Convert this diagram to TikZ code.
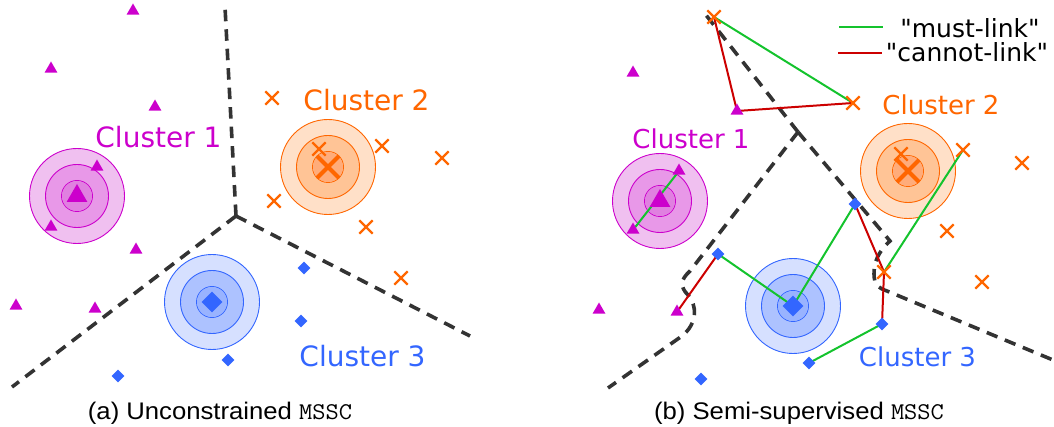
\documentclass[tikz,border=0pt]{standalone}
\usepackage{fontspec}
\setmainfont{Liberation Sans}
\newfontfamily\dejavu{DejaVu Sans}
\usetikzlibrary{shapes.geometric,shapes.misc}
\pgfdeclarelayer{circ}\pgfdeclarelayer{dash}\pgfdeclarelayer{links}
\pgfsetlayers{circ,dash,links,main}
\definecolor{magC}{RGB}{204,0,204}
\definecolor{magA}{RGB}{240,192,240}
\definecolor{magB}{RGB}{232,152,232}
\definecolor{magD}{RGB}{224,128,224}
\definecolor{orC}{RGB}{255,102,0}
\definecolor{orA}{RGB}{255,224,200}
\definecolor{orB}{RGB}{255,196,150}
\definecolor{orD}{RGB}{255,172,122}
\definecolor{blC}{RGB}{51,102,255}
\definecolor{blA}{RGB}{214,224,255}
\definecolor{blB}{RGB}{173,194,255}
\definecolor{blD}{RGB}{153,179,255}
\definecolor{mlink}{RGB}{20,195,45}
\definecolor{clink}{RGB}{204,0,0}
\definecolor{bnd}{RGB}{51,51,51}
\tikzset{
  tri/.style={regular polygon, regular polygon sides=3, fill=magC, inner sep=0pt, minimum size=15pt},
  bigtri/.style={tri, minimum size=24pt},
  crs/.style={cross out, draw=orC, line width=2.3pt, minimum size=11pt, inner sep=0pt},
  bigcrs/.style={crs, line width=4pt, minimum size=18pt},
  dia/.style={diamond, fill=blC, inner sep=0pt, minimum size=13pt},
  bigdia/.style={dia, minimum size=21pt},
  boundary/.style={draw=bnd, line width=3.6pt, dash pattern=on 11.5pt off 8pt},
  mustlink/.style={draw=mlink, line width=2pt},
  cannotlink/.style={draw=clink, line width=2pt},
  clabel/.style={font=\dejavu\fontsize{28}{30}\selectfont, anchor=base, inner sep=0pt},
  clabelr/.style={font=\dejavu\fontsize{26}{28}\selectfont, anchor=base, inner sep=0pt},
  legtext/.style={font=\dejavu\fontsize{25}{27}\selectfont, inner sep=0pt},
  caption/.style={font=\fontsize{24}{26}\selectfont, anchor=base, inner sep=0pt},
}
\newcommand{\rings}[4]{%
  \path[draw=#2, fill=#3, line width=0.9pt] (#1) circle[radius=47.5];
  \path[draw=#2, fill=#4, line width=0.9pt] (#1) circle[radius=31.5];
  \path[draw=#2, line width=0.9pt] (#1) circle[radius=15.5];
}
\begin{document}
\begin{tikzpicture}[x=1pt, y=-1pt]
\useasboundingbox (0,0) rectangle (1054,427);

% ===================== left panel =====================
\node[bigtri] (L1) at (77,196) {};
\node[bigcrs] (L2) at (328,167) {};
\node[bigdia] (L3) at (212,302) {};
\foreach \n/\p in {la1/{133,11}, la2/{51,69}, la3/{155,107}, la4/{97,167}, la5/{51,227}, la6/{136,250}, la7/{16,306}, la8/{95,309}}
  \node[tri] (\n) at (\p) {};
\foreach \n/\p in {lx1/{272,98}, lx2/{319,149}, lx3/{382,146}, lx4/{442,158}, lx5/{274,201}, lx6/{366,227}, lx7/{401,278}}
  \node[crs] (\n) at (\p) {};
\foreach \n/\p in {ld1/{304,268}, ld2/{301,321}, ld3/{228,360}, ld4/{118,376}}
  \node[dia] (\n) at (\p) {};

\coordinate (LJ) at (236,216);
\coordinate (LT) at (225,7);
\coordinate (LL) at (12,387);
\coordinate (LR) at (470,336);

\node[clabel, text=magC] (lc1) at (158.5,148) {Cluster 1};
\node[clabel, text=orC] (lc2) at (366.5,111) {Cluster 2};
\node[clabel, text=blC] (lc3) at (362.5,366) {Cluster 3};

% ===================== right panel =====================
\node[bigtri] (R1) at (660,201) {};
\node[bigcrs] (R2) at (908,171) {};
\node[bigdia] (R3) at (793,306) {};
\foreach \n/\p in {ra1/{633,73}, ra2/{737,111}, ra3/{679,171}, ra4/{633,230}, ra5/{599,310}, ra6/{677,312}}
  \node[tri] (\n) at (\p) {};
\foreach \n/\p in {rx1/{714,17}, rx2/{853,103}, rx3/{901,154}, rx4/{963,150}, rx5/{1022,163}, rx6/{947,231}, rx7/{884,272}, rx8/{982,282}}
  \node[crs] (\n) at (\p) {};
\foreach \n/\p in {rd1/{855,204}, rd2/{718,254}, rd3/{882,324}, rd4/{809,363}, rd5/{701,379}}
  \node[dia] (\n) at (\p) {};

\coordinate (RT) at (702,10);
\coordinate (RJ) at (798,132);
\coordinate (RR) at (1053,360);
\coordinate (RL) at (608,388);

\node[clabelr, text=magC] (rc1) at (691,149) {Cluster 1};
\node[clabelr, text=orC] (rc2) at (941,115) {Cluster 2};
\node[clabelr, text=blC] (rc3) at (917.5,366) {Cluster 3};

% legend
\coordinate (lgA1) at (839,27);
\coordinate (lgA2) at (883,27);
\coordinate (lgB1) at (838,53);
\coordinate (lgB2) at (882,53);
\node[legtext] (lgt1) at (970,28) {"must-link"};
\node[legtext] (lgt2) at (967,52) {"cannot-link"};

% captions
\node[caption] (capa) at (220,419) {\scalebox{1.07}[1]{(a) Unconstrained \texttt{MSSC}}};
\node[caption] (capb) at (799,419) {\scalebox{1.07}[1]{(b) Semi-supervised \texttt{MSSC}}};

% ===================== circles =====================
\begin{pgfonlayer}{circ}
  \rings{L1}{magC}{magA}{magB}
  \rings{L2}{orC}{orA}{orB}
  \rings{L3}{blC}{blA}{blB}
  \rings{R1}{magC}{magA}{magB}
  \rings{R2}{orC}{orA}{orB}
  \rings{R3}{blC}{blA}{blB}
  \foreach \c/\k in {L1/magD, L2/orD, L3/blD, R1/magD, R2/orD, R3/blD}
    \fill[\k] (\c) circle[radius=15];
\end{pgfonlayer}

% ===================== boundaries =====================
\begin{pgfonlayer}{dash}
  \draw[boundary] (LJ) -- (LT);
  \draw[boundary] (LJ) -- (LL);
  \draw[boundary] (LJ) -- (LR);
  \draw[boundary] (RJ) -- (RT);
  \draw[boundary] (RJ) -- (890,241) .. controls (878,252) and (874,262) .. (874,274)
     .. controls (874,284) and (878,288) .. (887,291) -- (RR);
  \draw[boundary] (RJ) -- (690,271) .. controls (680,280) and (680,287) .. (688,295)
     .. controls (697,305) and (698,323) .. (682,336) -- (RL);
\end{pgfonlayer}

% ===================== links =====================
\begin{pgfonlayer}{links}
  \draw[mustlink] (rx1.center) -- (rx2.center);
  \draw[mustlink] (ra3.center) -- (ra4.center);
  \draw[mustlink] (rd2.center) -- (R3.center);
  \draw[mustlink] (R3.center) -- (rd1.center);
  \draw[mustlink] (rx7.center) -- (rx4.center);
  \draw[mustlink] (rd3.center) -- (rd4.center);
  \draw[cannotlink] (rx1.center) -- (ra2.center);
  \draw[cannotlink] (ra2.center) -- (rx2.center);
  \draw[cannotlink] (rd2.center) -- (ra6.center);
  \draw[cannotlink] (rd1.center) -- (rx7.center);
  \draw[cannotlink] (rx7.center) -- (rd3.center);
  \draw[mustlink] (lgA1) -- (lgA2);
  \draw[cannotlink] (lgB1) -- (lgB2);
\end{pgfonlayer}
\end{tikzpicture}
\end{document}
